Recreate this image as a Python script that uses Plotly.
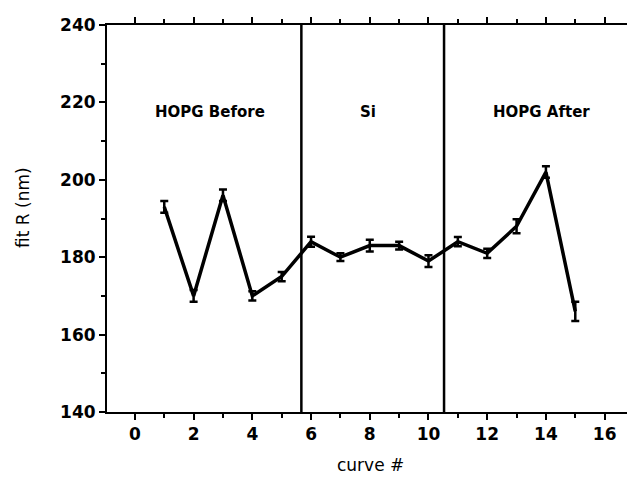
import plotly.graph_objects as go

curve = [1, 2, 3, 4, 5, 6, 7, 8, 9, 10, 11, 12, 13, 14, 15]
fit_r = [193, 170, 196, 170, 175, 184, 180, 183, 183, 179, 184, 181, 188, 202, 166]
fit_err = [1.5, 1.5, 1.5, 1.2, 1.2, 1.3, 1.0, 1.5, 1.0, 1.5, 1.2, 1.2, 1.8, 1.5, 2.5]
dividers = [5.67, 10.53]
region_labels = ["HOPG Before", "Si", "HOPG After"]
region_x = [2.55, 7.95, 13.85]
region_y = [217.5, 217.5, 217.5]
x_title = "curve #"
y_title = "fit R (nm)"

FIG_W, FIG_H = 627, 473
ML, MR, MT, MB = 99, 1, 17, 69
PW = FIG_W - ML - MR
PH = FIG_H - MT - MB


def px_to_paper_x(px):
    return (px - 8 - ML) / PW


def px_to_paper_y(py):
    return (FIG_H - MB - (py - 8)) / PH


fig = go.Figure()
fig.add_trace(go.Scatter(
    x=curve, y=fit_r, mode="lines",
    line=dict(color="black", width=3.5),
    error_y=dict(type="data", array=fit_err, color="black", thickness=2.5, width=4),
    showlegend=False,
))

for xv in dividers:
    fig.add_shape(type="line", x0=xv, x1=xv, y0=140, y1=240, xref="x", yref="y",
                  line=dict(color="black", width=2.5))

for t, xv, yv in zip(region_labels, region_x, region_y):
    fig.add_annotation(x=xv, y=yv, text=t, showarrow=False,
                       font=dict(family="DejaVu Sans", size=15, color="black", weight="bold"))

fig.add_annotation(x=px_to_paper_x(370), y=px_to_paper_y(465), xref="paper", yref="paper",
                   text=x_title, showarrow=False, xanchor="center", yanchor="middle",
                   font=dict(family="DejaVu Sans", size=17, color="black"))
fig.add_annotation(x=px_to_paper_x(23), y=px_to_paper_y(208), xref="paper", yref="paper",
                   text=y_title, showarrow=False, xanchor="center", yanchor="middle", textangle=-90,
                   font=dict(family="DejaVu Sans", size=17, color="black"))

fig.update_layout(
    width=FIG_W, height=FIG_H,
    margin=dict(l=ML, r=MR, t=MT, b=MB),
    plot_bgcolor="white", paper_bgcolor="white",
    font=dict(family="DejaVu Sans", color="black"),
)
fig.update_xaxes(
    range=[-0.95, 17], tickvals=[0, 2, 4, 6, 8, 10, 12, 14, 16],
    ticks="outside", ticklen=6, tickwidth=2, tickcolor="black",
    minor=dict(tickvals=[1, 3, 5, 7, 9, 11, 13, 15], ticks="outside", ticklen=4, tickwidth=2, tickcolor="black"),
    showline=True, linewidth=2, linecolor="black", mirror="ticks",
    showgrid=False, zeroline=False, automargin=False,
    tickfont=dict(family="DejaVu Sans", size=17, weight="bold"),
)
fig.update_yaxes(
    range=[140, 240], tickvals=[140, 160, 180, 200, 220, 240],
    ticks="outside", ticklen=6, tickwidth=2, tickcolor="black",
    minor=dict(tickvals=[150, 170, 190, 210, 230], ticks="outside", ticklen=4, tickwidth=2, tickcolor="black"),
    showline=True, linewidth=2, linecolor="black", mirror=True,
    showgrid=False, zeroline=False, automargin=False,
    tickfont=dict(family="DejaVu Sans", size=17, weight="bold"),
)

fig.write_html("out.html")
